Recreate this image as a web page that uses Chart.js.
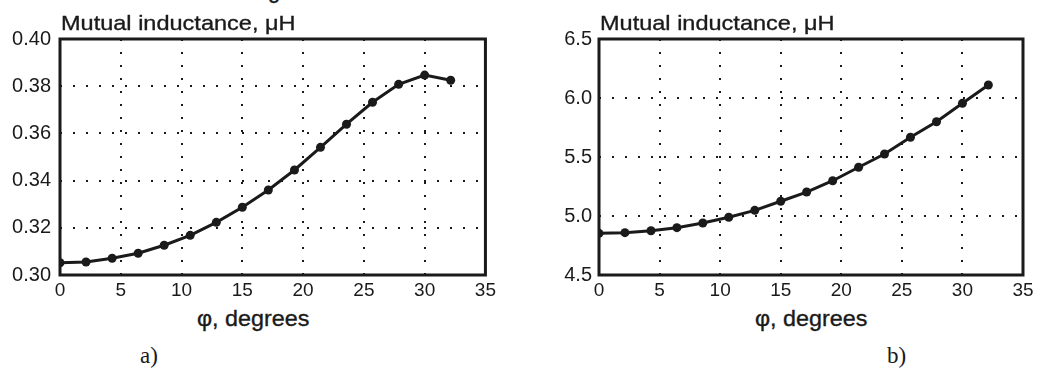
<!DOCTYPE html>
<html>
<head>
<meta charset="utf-8">
<script src="https://cdn.jsdelivr.net/npm/chart.js@4.4.1/dist/chart.umd.min.js"></script>
<style>
  html, body { margin: 0; padding: 0; background: #fff; }
  body { width: 1039px; height: 376px; position: relative; overflow: hidden; font-family: "Liberation Sans", Arial, sans-serif; color: #1a1a1a; }
  canvas { position: absolute; top: 0; }
  .t { position: absolute; white-space: nowrap; line-height: 1; transform-origin: 0 0; -webkit-text-stroke: 0.35px #1a1a1a; }
  .ytitle { font-size: 21px; top: 11.5px; transform: scaleX(1.12); }
  .xtitle { font-size: 22px; top: 307.5px; transform: scaleX(1.06); }
  .cap { font-family: "Liberation Serif", "Times New Roman", serif; font-size: 23px; top: 344px; -webkit-text-stroke: 0; }
</style>
</head>
<body>
<span class="t" style="font-size:22px; left:268px; top:-19.6px;">g</span>
<canvas id="ca" width="500" height="300" style="left:0px"></canvas>
<canvas id="cb" width="499" height="300" style="left:540px"></canvas>
<div class="t ytitle" style="left:61px">Mutual inductance, μH</div>
<div class="t ytitle" style="left:600px">Mutual inductance, μH</div>
<div class="t xtitle" style="left:197px">φ, degrees</div>
<div class="t xtitle" style="left:755px">φ, degrees</div>
<div class="t cap" style="left:140px">a)</div>
<div class="t cap" style="left:887px">b)</div>
<script>
// ---- data ----
const angles = [0, 2.14, 4.29, 6.43, 8.57, 10.71, 12.86, 15.0, 17.14, 19.29, 21.43, 23.57, 25.71, 27.86, 30.0, 32.14];
const inductanceA = [0.3052, 0.3055, 0.3071, 0.3092, 0.3126, 0.3168, 0.3223, 0.3287, 0.3360, 0.3445, 0.3541, 0.3639, 0.3732, 0.3808, 0.3847, 0.3825];
const inductanceB = [4.853, 4.859, 4.875, 4.901, 4.941, 4.989, 5.048, 5.125, 5.203, 5.299, 5.413, 5.525, 5.667, 5.799, 5.955, 6.110];
const xTickValues = [0, 5, 10, 15, 20, 25, 30, 35];
const yTicksA = [0.30, 0.32, 0.34, 0.36, 0.38, 0.40];
const yTicksB = [4.5, 5.0, 5.5, 6.0, 6.5];

const INK = '#1a1a1a';
const FONT = '"Liberation Sans", Arial, sans-serif';

const framePlugin = {
  id: 'frame',
  beforeDatasetsDraw(chart) {
    const a = chart.chartArea, ctx = chart.ctx;
    ctx.save();
    ctx.strokeStyle = INK;
    ctx.lineWidth = 3;
    ctx.strokeRect(a.left, a.top, a.right - a.left, a.bottom - a.top);
    ctx.restore();
  }
};

function makeChart(id, ys, yTicks, decimals, yWidth, yPad, rightPad) {
  const pts = angles.map((x, i) => ({ x: x, y: ys[i] }));
  return new Chart(document.getElementById(id), {
    type: 'line',
    data: { datasets: [{
      data: pts,
      borderColor: INK, backgroundColor: INK,
      borderWidth: 3, pointRadius: 4.5, pointBackgroundColor: INK,
      pointBorderWidth: 0, tension: 0, fill: false
    }] },
    options: {
      responsive: false, animation: false, devicePixelRatio: 1,
      layout: { padding: { top: 39, right: rightPad, left: 0, bottom: 0 } },
      plugins: { legend: { display: false }, tooltip: { enabled: false } },
      scales: {
        x: {
          type: 'linear', min: 0, max: 35,
          afterBuildTicks(s) { s.ticks = xTickValues.map(v => ({ value: v })); },
          afterFit(s) { s.height = 25; },
          grid: { color: INK, lineWidth: 2, drawTicks: false },
          border: { display: false, dash: [2, 11] },
          ticks: { color: INK, font: { family: FONT, size: 19 }, padding: 4, maxRotation: 0,
                   callback: v => String(v) }
        },
        y: {
          type: 'linear', min: yTicks[0], max: yTicks[yTicks.length - 1],
          afterBuildTicks(s) { s.ticks = yTicks.map(v => ({ value: v })); },
          afterFit(s) { s.width = yWidth; },
          grid: { color: INK, lineWidth: 2, drawTicks: false },
          border: { display: false, dash: [2, 11] },
          ticks: { color: INK, font: { family: FONT, size: 20 }, padding: yPad,
                   callback: v => Number(v).toFixed(decimals) }
        }
      }
    },
    plugins: [framePlugin]
  });
}

makeChart('ca', inductanceA, yTicksA, 2, 60, 9, 14);
makeChart('cb', inductanceB, yTicksB, 1, 59, 7, 16);
</script>
</body>
</html>
